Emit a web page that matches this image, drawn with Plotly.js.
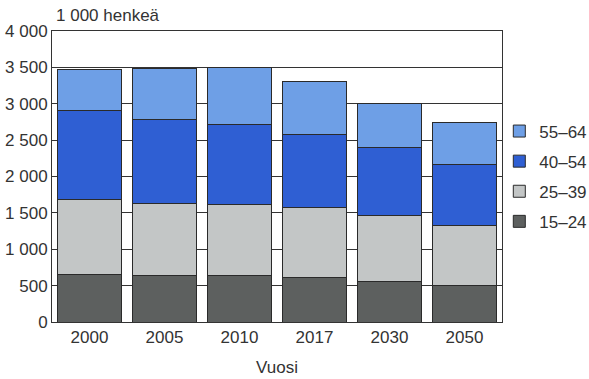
<!DOCTYPE html>
<html>
<head>
<meta charset="utf-8">
<script src="https://cdn.plot.ly/plotly-3.0.1.min.js"></script>
<style>html,body{margin:0;padding:0;background:#fff;}#chart{width:589px;height:379px;}</style>
</head>
<body>
<div id="chart"></div>
<script>
const years = ["2000", "2005", "2010", "2017", "2030", "2050"];
const seriesNames = ["15–24", "25–39", "40–54", "55–64"];
const age15_24 = [655, 645, 645, 605, 560, 500];
const age25_39 = [1035, 985, 970, 970, 900, 825];
const age40_54 = [1215, 1160, 1095, 1000, 945, 845];
const age55_64 = [560, 700, 790, 730, 605, 575];
const colors = ["#5d605f", "#c3c6c6", "#2f5fd3", "#6e9fe6"];

const values = [age15_24, age25_39, age40_54, age55_64];
const font = "'Liberation Sans Narrow', 'Arial Narrow', 'Liberation Sans', Arial, sans-serif";

const traces = values.map((v, i) => ({
  type: "bar",
  name: seriesNames[i],
  x: years,
  y: v,
  legendgroup: "g" + i,
  legendrank: 10 - i,
  marker: {color: colors[i], line: {color: "#2a2a2a", width: 1}},
  hoverinfo: "x+y+name"
}));

const layout = {
  width: 589, height: 379,
  margin: {l: 52, r: 87, t: 31, b: 57, autoexpand: false},
  paper_bgcolor: "#fff", plot_bgcolor: "#fff",
  barmode: "stack",
  bargap: 0.15,
  separators: ", ",
  font: {family: font, size: 17, color: "#333"},
  xaxis: {
    type: "category",
    showline: true, linecolor: "#333", linewidth: 1, mirror: true,
    ticks: "", tickfont: {size: 17},
    title: {text: "Vuosi", font: {size: 17}, standoff: 14}
  },
  yaxis: {
    range: [0, 4000], dtick: 500, tickformat: ",d",
    showline: true, linecolor: "#333", linewidth: 1, mirror: true,
    showgrid: true, gridcolor: "#333", gridwidth: 1,
    zeroline: false, ticks: "", ticklen: 0,
    tickfont: {size: 17}
  },
  showlegend: true,
  legend: {
    x: 0.994, xanchor: "left", y: 0.5, yanchor: "middle",
    traceorder: "grouped", tracegroupgap: 5,
    font: {size: 17}, bgcolor: "rgba(0,0,0,0)"
  },
  annotations: [{
    text: "1 000 henkeä", xref: "paper", yref: "paper",
    x: 0.005, y: 1.0, xanchor: "left", yanchor: "bottom", yshift: 4,
    showarrow: false, font: {size: 17}
  }]
};

Plotly.newPlot("chart", traces, layout, {displayModeBar: false, staticPlot: true});
</script>
</body>
</html>
